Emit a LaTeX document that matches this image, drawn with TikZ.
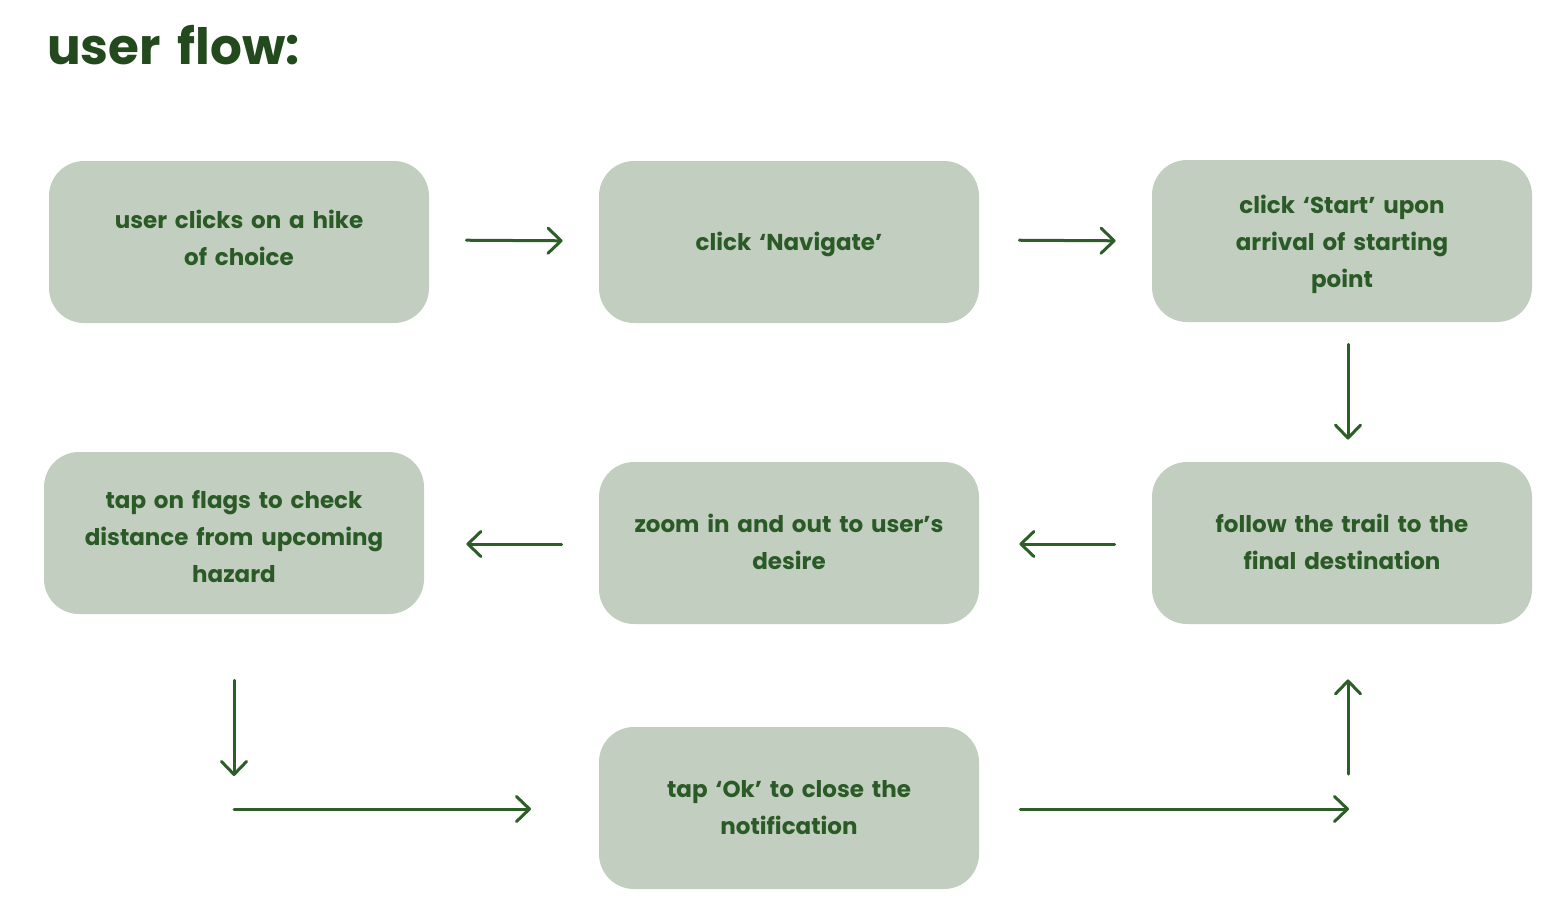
\documentclass[tikz,border=0pt]{standalone}
\usepackage{fontspec}
\setmainfont{Poppins}[WordSpace=1.6]
\usetikzlibrary{arrows.meta}
\definecolor{boxfill}{HTML}{C2CEC0}
\definecolor{txtgreen}{HTML}{2A5A25}
\definecolor{titlegreen}{HTML}{224A1C}
\definecolor{arrgreen}{HTML}{2D5E27}
\begin{document}
\begin{tikzpicture}[x=0.5pt,y=-0.5pt,
  stepbox/.style={draw=none,fill=boxfill,rounded corners=17.5pt,minimum width=190pt,minimum height=81pt,inner sep=0pt},
  steptext/.style={align=center,text=txtgreen,font=\fontsize{11.5}{18.5}\selectfont\bfseries,inner sep=0pt},
  arr/.style={draw=arrgreen,line width=1.5pt,line cap=round,-{Straight Barb[length=6.5pt,width=12.5pt,line width=1.5pt,round]}}]
\useasboundingbox (0,0) rectangle (1552,906);
\node[anchor=base west,text=titlegreen,font=\fontsize{25}{30}\selectfont\bfseries] (title) at (40,64) {user flow:};
\node[stepbox] (n1) at (239,242) {};
\node[stepbox] (n2) at (789,242) {};
\node[stepbox] (n3) at (1342,241) {};
\node[stepbox] (n4) at (234,533) {};
\node[stepbox] (n5) at (789,543) {};
\node[stepbox] (n6) at (1342,543) {};
\node[stepbox] (n7) at (789,808) {};
\node[steptext] (t1) at ([yshift=2pt]n1.center) {user clicks on a hike\\of choice};
\node[steptext] (t2) at ([yshift=-1pt]n2.center) {click ‘Navigate’};
\node[steptext] (t3) at ([yshift=-1.5pt]n3.center) {click ‘Start’ upon\\arrival of starting\\point};
\node[steptext] (t4) at ([yshift=-2pt]n4.center) {tap on flags to check\\distance from upcoming\\hazard};
\node[steptext] (t5) at ([yshift=0.5pt]n5.center) {zoom in and out to user’s\\desire};
\node[steptext] (t6) at ([yshift=0.5pt]n6.center) {follow the trail to the\\final destination};
\node[steptext] (t7) at (n7.center) {tap ‘Ok’ to close the\\notification};
\coordinate (c6) at (234,776);
\coordinate (c7a) at (234,809);
\coordinate (c7b) at (531,809);
\coordinate (c8) at (1349,809);
\coordinate (c9) at (1348,774);
\draw[arr,shorten <=18.5pt,shorten >=18pt] (n1.east |- 0,240) -- (n2.west |- 0,241);
\draw[arr,shorten <=20pt,shorten >=18pt] (n2.east |- 0,240) -- (n3.west |- 0,241);
\draw[arr,shorten <=11pt,shorten >=11pt] (1348,0 |- n3.south) -- (1348,0 |- n6.north);
\draw[arr,shorten <=18.5pt,shorten >=20pt] (n6.west |- 0,544) -- (n5.east |- 0,544);
\draw[arr,shorten <=18.5pt,shorten >=21pt] (n5.west |- 0,544) -- (n4.east |- 0,544);
\draw[arr,shorten <=33pt] (n4.south) -- (c6);
\draw[arr] (c7a) -- (c7b);
\draw[arr,shorten <=20.5pt] (n7.east |- c8) -- (c8);
\draw[arr,shorten >=27.5pt] (c9) -- (c9 |- n6.south);
\end{tikzpicture}
\end{document}
